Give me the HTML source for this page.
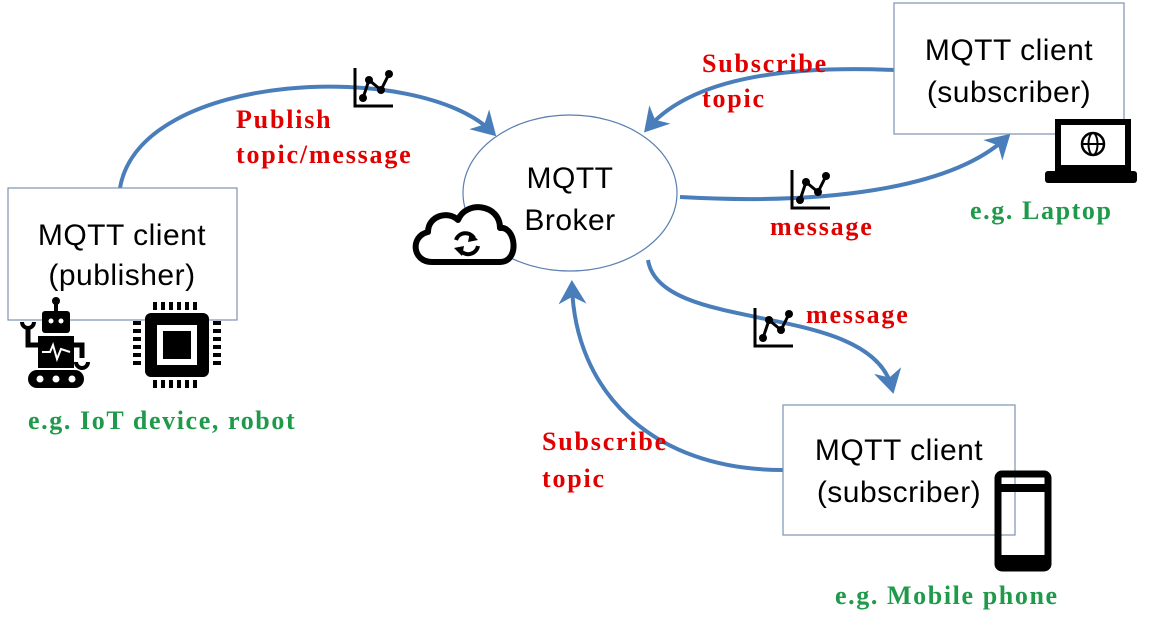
<!DOCTYPE html>
<html><head><meta charset="utf-8"><style>
html,body{margin:0;padding:0;background:#fff;}
svg{display:block;}
.box{font-family:"Liberation Sans",sans-serif;font-size:30px;fill:#000;letter-spacing:0.5px;}
.red{font-family:"Liberation Serif",serif;font-size:26px;fill:#e00000;font-weight:bold;letter-spacing:1.8px;}
.grn{font-family:"Liberation Serif",serif;font-size:26px;fill:#1f9a4a;font-weight:bold;letter-spacing:1.6px;}
</style></head><body>
<svg width="1152" height="632" viewBox="0 0 1152 632" xmlns="http://www.w3.org/2000/svg">
<defs>
<marker id="ah" markerWidth="7" markerHeight="7" refX="4.5" refY="3.5" orient="auto" markerUnits="strokeWidth">
<path d="M0,0 L6,3.5 L0,7 L1.8,3.5 Z" fill="#4a7ebb"/>
</marker>
<g id="chart">
<path d="M2,0 V38 H40" fill="none" stroke="#000" stroke-width="3"/>
<polyline points="10,30 16,12 28,22 36,6" fill="none" stroke="#000" stroke-width="3"/>
<circle cx="10" cy="30" r="4"/><circle cx="16" cy="12" r="4"/><circle cx="28" cy="22" r="4"/><circle cx="36" cy="6" r="4"/>
</g>
</defs>

<ellipse cx="570" cy="193" rx="107" ry="78" fill="#fff" stroke="#5b7fb0" stroke-width="1.2"/>

<g fill="none" stroke="#4a7ebb" stroke-width="4">
<path d="M120,188 C140,70 420,60 492,132" marker-end="url(#ah)"/>
<path d="M894,70 C780,65 690,80 648,128" marker-end="url(#ah)"/>
<path d="M680,197 C820,205 950,190 1006,138" marker-end="url(#ah)"/>
<path d="M648,260 C660,335 870,300 892,388" marker-end="url(#ah)"/>
<path d="M783,470 C650,470 575,390 572,286" marker-end="url(#ah)"/>
</g>

<rect x="8" y="188" width="229" height="132" fill="#fff" stroke="#7d93b5" stroke-width="1.2"/>
<text class="box" x="122" y="245" text-anchor="middle">MQTT client</text>
<text class="box" x="122" y="285" text-anchor="middle">(publisher)</text>

<rect x="894" y="3" width="230" height="131" fill="#fff" stroke="#7d93b5" stroke-width="1.2"/>
<text class="box" x="1009" y="60" text-anchor="middle">MQTT client</text>
<text class="box" x="1009" y="102" text-anchor="middle">(subscriber)</text>

<rect x="783" y="405" width="232" height="130" fill="#fff" stroke="#7d93b5" stroke-width="1.2"/>
<text class="box" x="899" y="460" text-anchor="middle">MQTT client</text>
<text class="box" x="899" y="502" text-anchor="middle">(subscriber)</text>

<text class="box" x="570" y="188" text-anchor="middle">MQTT</text>
<text class="box" x="570" y="230" text-anchor="middle">Broker</text>

<text class="red" x="236" y="128">Publish</text>
<text class="red" x="236" y="163">topic/message</text>
<text class="red" x="702" y="72">Subscribe</text>
<text class="red" x="702" y="107">topic</text>
<text class="red" x="770" y="235">message</text>
<text class="red" x="806" y="323">message</text>
<text class="red" x="542" y="450">Subscribe</text>
<text class="red" x="542" y="487">topic</text>
<text class="grn" x="28" y="429">e.g. IoT device, robot</text>
<text class="grn" x="970" y="219">e.g. Laptop</text>
<text class="grn" x="835" y="604">e.g. Mobile phone</text>

<use href="#chart" x="353" y="68"/>
<use href="#chart" x="790" y="170"/>
<use href="#chart" x="753" y="308"/>

<path d="M432,262 C412,262 410,236 428,232 C428,216 448,210 458,220 C466,200 500,204 500,228 C516,226 520,262 500,262 Z" fill="#fff" stroke="#000" stroke-width="6" stroke-linejoin="round"/>
<path d="M456,240 A10,10 0 0 1 474,238" fill="none" stroke="#000" stroke-width="4"/>
<path d="M478,246 A10,10 0 0 1 460,250" fill="none" stroke="#000" stroke-width="4"/>
<path d="M470,232 L478,240 L468,242 Z"/><path d="M462,256 L454,248 L464,246 Z"/>

<rect x="1058" y="122" width="70" height="46" fill="#fff" stroke="#000" stroke-width="6"/>
<rect x="1045" y="171" width="92" height="12" rx="3"/>
<circle cx="1093" cy="144" r="11" fill="none" stroke="#000" stroke-width="2.5"/>
<ellipse cx="1093" cy="144" rx="4.5" ry="11" fill="none" stroke="#000" stroke-width="2"/>
<line x1="1082" y1="144" x2="1104" y2="144" stroke="#000" stroke-width="2"/>

<rect x="998" y="474" width="50" height="94" rx="4" fill="none" stroke="#000" stroke-width="7"/>
<line x1="998" y1="488" x2="1048" y2="488" stroke="#000" stroke-width="8"/>
<rect x="1016" y="478" width="12" height="4" rx="2" fill="#fff"/>
<line x1="998" y1="560" x2="1048" y2="560" stroke="#000" stroke-width="10"/>

<circle cx="56" cy="301" r="4"/><rect x="54" y="302" width="4" height="10"/>
<rect x="42" y="311" width="28" height="22" rx="3"/>
<circle cx="51" cy="321" r="2.5" fill="#fff"/><circle cx="61" cy="321" r="2.5" fill="#fff"/>
<rect x="38" y="336" width="36" height="32"/>
<polyline points="42,352 50,352 53,345 57,359 61,349 70,352" fill="none" stroke="#fff" stroke-width="2"/>
<path d="M38,345 H28 V326" fill="none" stroke="#000" stroke-width="5"/>
<path d="M22,322 A6,6 0 0 0 34,322" fill="none" stroke="#000" stroke-width="4"/>
<path d="M74,345 H82 V358" fill="none" stroke="#000" stroke-width="5"/>
<path d="M76,362 A6,6 0 0 0 88,362" fill="none" stroke="#000" stroke-width="4"/>
<rect x="28" y="370" width="56" height="18" rx="9"/>
<circle cx="40" cy="379" r="3.5" fill="#fff"/><circle cx="56" cy="379" r="3.5" fill="#fff"/><circle cx="72" cy="379" r="3.5" fill="#fff"/>

<rect x="145" y="313" width="64" height="64" rx="6"/>
<rect x="157" y="325" width="40" height="40" fill="#fff"/>
<rect x="163" y="331" width="28" height="28"/>
<g fill="#000">
<rect x="153" y="302" width="4" height="8"/><rect x="161" y="302" width="4" height="8"/><rect x="169" y="302" width="4" height="8"/><rect x="177" y="302" width="4" height="8"/><rect x="185" y="302" width="4" height="8"/><rect x="193" y="302" width="4" height="8"/>
<rect x="153" y="380" width="4" height="8"/><rect x="161" y="380" width="4" height="8"/><rect x="169" y="380" width="4" height="8"/><rect x="177" y="380" width="4" height="8"/><rect x="185" y="380" width="4" height="8"/><rect x="193" y="380" width="4" height="8"/>
<rect x="133" y="321" width="8" height="4"/><rect x="133" y="329" width="8" height="4"/><rect x="133" y="337" width="8" height="4"/><rect x="133" y="345" width="8" height="4"/><rect x="133" y="353" width="8" height="4"/><rect x="133" y="361" width="8" height="4"/>
<rect x="213" y="321" width="8" height="4"/><rect x="213" y="329" width="8" height="4"/><rect x="213" y="337" width="8" height="4"/><rect x="213" y="345" width="8" height="4"/><rect x="213" y="353" width="8" height="4"/><rect x="213" y="361" width="8" height="4"/>
</g>
</svg>
</body></html>
